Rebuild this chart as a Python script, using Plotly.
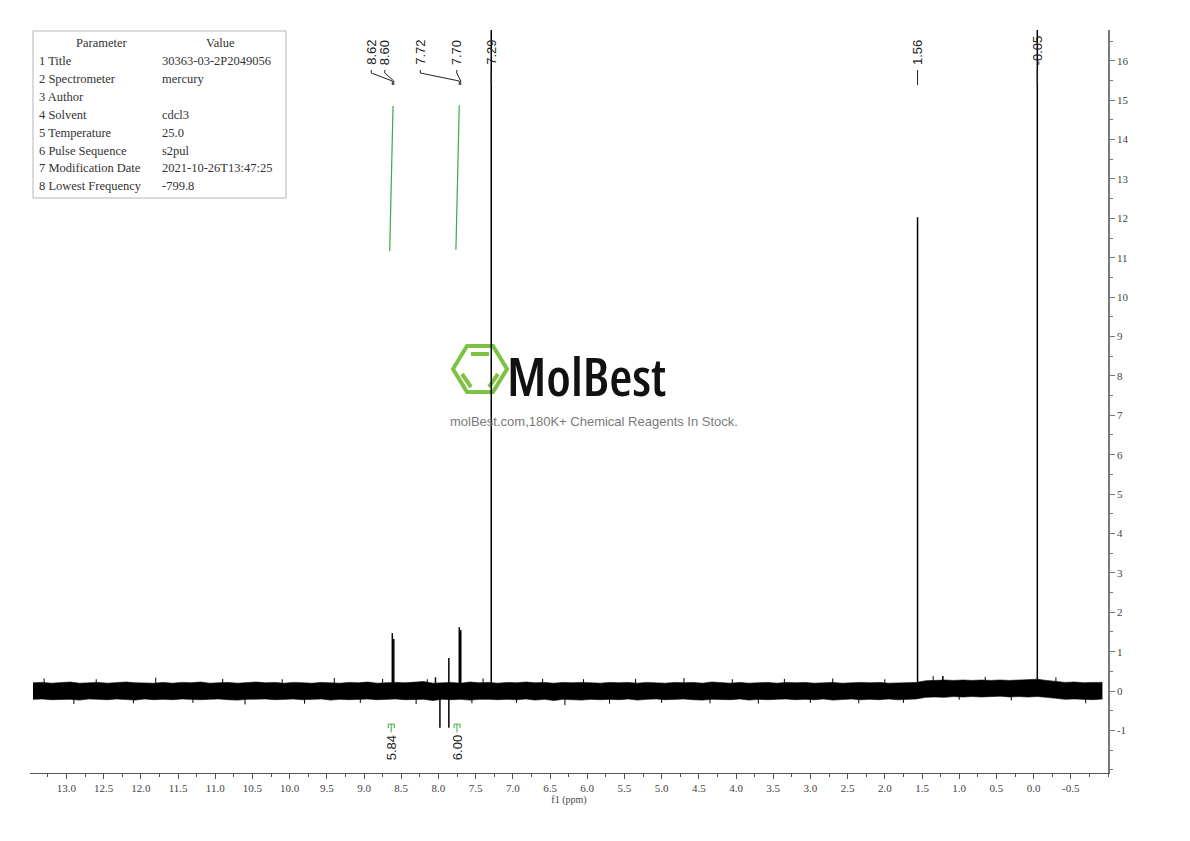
import plotly.graph_objects as go

# ---------------- data ----------------
# baseline noise envelope (intensity units)
noise_ppm = [13.45, 13.325, 13.2, 13.075, 12.95, 12.825, 12.7, 12.575, 12.45, 12.325,
             12.2, 12.075, 11.95, 11.825, 11.7, 11.575, 11.45, 11.325, 11.2, 11.075,
             10.95, 10.825, 10.7, 10.575, 10.45, 10.325, 10.2, 10.075, 9.95, 9.825,
             9.7, 9.575, 9.45, 9.325, 9.2, 9.075, 8.95, 8.825, 8.7, 8.575,
             8.45, 8.325, 8.2, 8.075, 7.95, 7.825, 7.7, 7.575, 7.45, 7.325,
             7.2, 7.075, 6.95, 6.825, 6.7, 6.575, 6.45, 6.325, 6.2, 6.075,
             5.95, 5.825, 5.7, 5.575, 5.45, 5.325, 5.2, 5.075, 4.95, 4.825,
             4.7, 4.575, 4.45, 4.325, 4.2, 4.075, 3.95, 3.825, 3.7, 3.575,
             3.45, 3.325, 3.2, 3.075, 2.95, 2.825, 2.7, 2.575, 2.45, 2.325,
             2.2, 2.075, 1.95, 1.825, 1.7, 1.575, 1.45, 1.325, 1.2, 1.075,
             0.95, 0.825, 0.7, 0.575, 0.45, 0.325, 0.2, 0.075, -0.05, -0.175,
             -0.3, -0.425, -0.55, -0.675, -0.8, -0.925]
noise_upper = [0.21, 0.22, 0.20, 0.21, 0.23, 0.20, 0.21, 0.22, 0.20, 0.22,
               0.23, 0.21, 0.21, 0.20, 0.22, 0.20, 0.22, 0.21, 0.23, 0.20,
               0.21, 0.22, 0.20, 0.21, 0.23, 0.21, 0.22, 0.20, 0.22, 0.21,
               0.20, 0.22, 0.21, 0.20, 0.22, 0.21, 0.23, 0.20, 0.21, 0.22,
               0.21, 0.22, 0.24, 0.20, 0.21, 0.22, 0.20, 0.23, 0.21, 0.22,
               0.20, 0.22, 0.21, 0.23, 0.21, 0.22, 0.20, 0.22, 0.21, 0.22,
               0.21, 0.20, 0.22, 0.21, 0.22, 0.20, 0.22, 0.21, 0.20, 0.22,
               0.21, 0.22, 0.20, 0.23, 0.21, 0.20, 0.22, 0.20, 0.21, 0.22,
               0.20, 0.22, 0.21, 0.22, 0.20, 0.21, 0.22, 0.20, 0.21, 0.22,
               0.21, 0.22, 0.20, 0.21, 0.22, 0.22, 0.26, 0.27, 0.28, 0.27,
               0.28, 0.27, 0.28, 0.27, 0.28, 0.27, 0.28, 0.29, 0.30, 0.27,
               0.24, 0.22, 0.23, 0.21, 0.22, 0.22]
noise_lower = [-0.21, -0.20, -0.22, -0.21, -0.21, -0.23, -0.20, -0.21, -0.22, -0.20,
               -0.21, -0.23, -0.20, -0.22, -0.21, -0.22, -0.20, -0.21, -0.22, -0.21,
               -0.20, -0.22, -0.23, -0.21, -0.21, -0.20, -0.22, -0.21, -0.20, -0.22,
               -0.21, -0.20, -0.23, -0.21, -0.22, -0.21, -0.20, -0.22, -0.21, -0.20,
               -0.22, -0.21, -0.21, -0.24, -0.21, -0.22, -0.21, -0.23, -0.21, -0.21,
               -0.22, -0.21, -0.22, -0.20, -0.23, -0.21, -0.24, -0.21, -0.22, -0.23,
               -0.21, -0.22, -0.21, -0.22, -0.20, -0.23, -0.21, -0.20, -0.22, -0.21,
               -0.20, -0.22, -0.23, -0.21, -0.21, -0.22, -0.20, -0.23, -0.21, -0.22,
               -0.21, -0.20, -0.22, -0.21, -0.22, -0.20, -0.23, -0.21, -0.20, -0.22,
               -0.21, -0.22, -0.20, -0.22, -0.21, -0.20, -0.16, -0.15, -0.16, -0.14,
               -0.15, -0.14, -0.15, -0.14, -0.13, -0.15, -0.14, -0.15, -0.14, -0.16,
               -0.19, -0.21, -0.20, -0.21, -0.22, -0.20]

# single noise spikes sticking out of the band
spike_ppm = [13.3, 12.9, 12.6, 12.1, 11.8, 11.3, 10.9, 10.6, 10.1, 9.8,
             9.4, 9.05, 8.75, 8.3, 8.15, 7.55, 7.4, 6.95, 6.6, 6.3,
             6.05, 5.7, 5.35, 5.0, 4.7, 4.35, 4.05, 3.7, 3.35, 3.0,
             2.7, 2.35, 2.0, 1.75, 1.35, 1.0, 0.65, 0.3, -0.3, -0.7]
spike_val = [0.32, -0.33, 0.30, -0.31, 0.34, -0.30, 0.31, -0.34, 0.30, -0.32,
             0.33, -0.30, 0.31, -0.33, 0.30, -0.31, 0.32, -0.30, 0.31, -0.36,
             0.30, -0.32, 0.31, -0.30, 0.33, -0.31, 0.30, -0.32, 0.31, -0.30,
             0.32, -0.31, 0.30, -0.30, 0.38, -0.22, 0.36, -0.24, 0.35, -0.31]

# peaks (ppm, intensity); the 7.29 and -0.05 lines run off the top
peak_ppm = [8.62, 8.60, 7.72, 7.70, 7.29, 1.56, -0.05, 7.98, 7.86, 7.86, 8.04, 1.22]
peak_height = [1.47, 1.32, 1.62, 1.55, 45.0, 12.03, 45.0, -0.93, 0.84, -0.93, 0.35, 0.38]

# labelled peaks
label_ppm = [8.62, 8.60, 7.72, 7.70, 7.29, 1.56, -0.05]
label_text = ["8.62", "8.60", "7.72", "7.70", "7.29", "1.56", "-0.05"]

# integrals
int1_ppm = [8.655, 8.64, 8.625, 8.61]
int1_val = [11.17, 12.5, 13.9, 14.85]
int2_ppm = [7.765, 7.75, 7.735, 7.72]
int2_val = [11.2, 12.4, 13.8, 14.87]
int_from = [8.66, 7.78]
int_to = [8.61, 7.72]
int_text = ["5.84", "6.00"]

# axes ticks
x_tick_vals = [13.0, 12.5, 12.0, 11.5, 11.0, 10.5, 10.0, 9.5, 9.0, 8.5, 8.0, 7.5, 7.0,
               6.5, 6.0, 5.5, 5.0, 4.5, 4.0, 3.5, 3.0, 2.5, 2.0, 1.5, 1.0, 0.5, 0.0, -0.5]
x_tick_text = ["13.0", "12.5", "12.0", "11.5", "11.0", "10.5", "10.0", "9.5", "9.0", "8.5",
               "8.0", "7.5", "7.0", "6.5", "6.0", "5.5", "5.0", "4.5", "4.0", "3.5", "3.0",
               "2.5", "2.0", "1.5", "1.0", "0.5", "0.0", "-0.5"]
y_tick_vals = [-1, 0, 1, 2, 3, 4, 5, 6, 7, 8, 9, 10, 11, 12, 13, 14, 15, 16]
y_tick_text = ["-1", "0", "1", "2", "3", "4", "5", "6", "7", "8", "9", "10",
               "11", "12", "13", "14", "15", "16"]

# parameter table
param_names = ["1 Title", "2 Spectrometer", "3 Author", "4 Solvent", "5 Temperature",
               "6 Pulse Sequence", "7 Modification Date", "8 Lowest Frequency"]
param_values = ["30363-03-2P2049056", "mercury", "", "cdcl3", "25.0", "s2pul",
                "2021-10-26T13:47:25", "-799.8"]

# ---------------- layout constants ----------------
W, H = 1190, 841
OFF = 8                      # page body margin
L, R, T, B = 22, 90, 22, 76
PW, PH = W - L - R, H - T - B
GREEN = "#3daa3d"
SERIF = "Liberation Serif, DejaVu Serif, serif"
SANS = "Liberation Sans, Arial, sans-serif"


def pxx(px):
    return (px - OFF - L) / PW


def pxy(py):
    return 1 - (py - OFF - T) / PH


fig = go.Figure()

# noise band
fig.add_trace(go.Scatter(x=noise_ppm, y=noise_lower, mode="lines",
                         line=dict(color="black", width=0.6), showlegend=False,
                         hoverinfo="skip"))
fig.add_trace(go.Scatter(x=noise_ppm, y=noise_upper, mode="lines", fill="tonexty",
                         fillcolor="black", line=dict(color="black", width=0.6),
                         showlegend=False, hoverinfo="skip"))

# noise spikes
nx, ny = [], []
for p, h in zip(spike_ppm, spike_val):
    nx += [p, p, None]
    ny += [0, h, None]
fig.add_trace(go.Scatter(x=nx, y=ny, mode="lines", line=dict(color="black", width=1),
                         showlegend=False, hoverinfo="skip"))

# peaks as sticks
sx, sy = [], []
for p, h in zip(peak_ppm, peak_height):
    sx += [p, p, None]
    sy += [0, h, None]
fig.add_trace(go.Scatter(x=sx, y=sy, mode="lines", line=dict(color="black", width=1.5),
                         showlegend=False, hoverinfo="skip"))

# integral curves
for xs, ys in [(int1_ppm, int1_val), (int2_ppm, int2_val)]:
    fig.add_trace(go.Scatter(x=xs, y=ys, mode="lines", line=dict(color=GREEN, width=1.2),
                             showlegend=False, hoverinfo="skip"))

shapes = []
annotations = []

# peak labels
label_dx = [-21, -9, -39, -4, 0, 0, 0]
for p, t, dx in zip(label_ppm, label_text, label_dx):
    annotations.append(dict(x=p, xref="x", y=pxy(67), yref="paper", text=t,
                            textangle=-90, showarrow=False, xshift=dx,
                            xanchor="center", yanchor="bottom",
                            font=dict(family=SANS, size=13, color="#222")))
    shapes.append(dict(type="path", xref="x", yref="paper", xsizemode="pixel",
                       ysizemode="pixel", xanchor=p, yanchor=pxy(70),
                       path=f"M {dx},0 L {dx},-3 L 0,-11 L 0,-15",
                       line=dict(color="#222", width=1)))

# integral marks below the baseline
for a, b, t in zip(int_from, int_to, int_text):
    c = (a + b) / 2
    shapes.append(dict(type="line", xref="x", yref="y", x0=c, x1=c, y0=-0.84, y1=-1.05,
                       line=dict(color=GREEN, width=1)))
    shapes.append(dict(type="path", xref="x", yref="y", xsizemode="pixel", xanchor=c,
                       ysizemode="pixel", yanchor=-0.84,
                       path="M -3,-4 L -3,0 L 3,0 L 3,-4",
                       line=dict(color=GREEN, width=1)))
    annotations.append(dict(x=c, xref="x", y=-1.08, yref="y", text=t, textangle=-90,
                            showarrow=False, xanchor="center", yanchor="top",
                            font=dict(family=SANS, size=13, color="#222")))

# parameter table
shapes.append(dict(type="rect", xref="paper", yref="paper", x0=pxx(33), x1=pxx(286),
                   y0=pxy(31), y1=pxy(198), line=dict(color="#b5b5b5", width=1),
                   fillcolor="white", layer="above"))
tfont = dict(family=SERIF, size=12.5, color="#333")
annotations.append(dict(x=pxx(102), y=pxy(43), xref="paper", yref="paper", text="Parameter",
                        showarrow=False, xanchor="center", yanchor="middle", font=tfont))
annotations.append(dict(x=pxx(220), y=pxy(43), xref="paper", yref="paper", text="Value",
                        showarrow=False, xanchor="center", yanchor="middle", font=tfont))
for i, (n, v) in enumerate(zip(param_names, param_values)):
    yy = 61 + i * 17.9
    annotations.append(dict(x=pxx(37), y=pxy(yy), xref="paper", yref="paper", text=n,
                            showarrow=False, xanchor="left", yanchor="middle", font=tfont))
    if v:
        annotations.append(dict(x=pxx(160), y=pxy(yy), xref="paper", yref="paper", text=v,
                                showarrow=False, xanchor="left", yanchor="middle", font=tfont))

# watermark logo
hexpts = [(453, 369), (467, 346), (493, 346), (507, 369), (493, 392), (467, 392)]
path = "M " + " L ".join(f"{pxx(a):.5f},{pxy(b):.5f}" for a, b in hexpts) + " Z"
shapes.append(dict(type="path", xref="paper", yref="paper", path=path,
                   line=dict(color="#7dc242", width=4), layer="below"))
for (a1, b1, a2, b2) in [(471, 354, 489, 354), (462, 374, 471, 387), (498, 374, 489, 387)]:
    shapes.append(dict(type="line", xref="paper", yref="paper", x0=pxx(a1), y0=pxy(b1),
                       x1=pxx(a2), y1=pxy(b2), line=dict(color="#7dc242", width=4),
                       layer="below"))
annotations.append(dict(x=pxx(586), y=pxy(375), xref="paper", yref="paper",
                        text='<span style="font-stretch:condensed">MolBest</span>',
                        showarrow=False, xanchor="center", yanchor="middle",
                        font=dict(family="Open Sans, DejaVu Sans, sans-serif",
                                  size=53, weight=600, color="#111")))
annotations.append(dict(x=pxx(594), y=pxy(421), xref="paper", yref="paper",
                        text="molBest.com,180K+ Chemical Reagents In Stock.",
                        showarrow=False, xanchor="center", yanchor="middle",
                        font=dict(family=SANS, size=13, color="#7a7a7a")))

fig.update_layout(
    width=W, height=H,
    margin=dict(l=L, r=R, t=T, b=B),
    paper_bgcolor="white", plot_bgcolor="white",
    showlegend=False,
    shapes=shapes, annotations=annotations,
    xaxis=dict(range=[13.49, -1.0], tickmode="array", tickvals=x_tick_vals,
               ticktext=x_tick_text, ticks="outside", ticklen=5, tickcolor="#555",
               minor=dict(dtick=0.25, tick0=0, ticks="outside", ticklen=3, tickcolor="#555"),
               showline=True, linecolor="#555", linewidth=1, showgrid=False, zeroline=False,
               tickfont=dict(family=SERIF, size=11, color="#444"),
               title=dict(text="f1 (ppm)", standoff=2,
                          font=dict(family=SERIF, size=10, color="#444"))),
    yaxis=dict(range=[-2.08, 16.78], side="right", tickmode="array", tickvals=y_tick_vals,
               ticktext=y_tick_text, ticks="outside", ticklen=5, tickcolor="#777",
               minor=dict(dtick=0.5, tick0=0, ticks="outside", ticklen=3, tickcolor="#777"),
               showline=True, linecolor="#777", linewidth=1.5, showgrid=False, zeroline=False,
               tickfont=dict(family=SERIF, size=11, color="#444")),
)

fig.write_html("out.html")
